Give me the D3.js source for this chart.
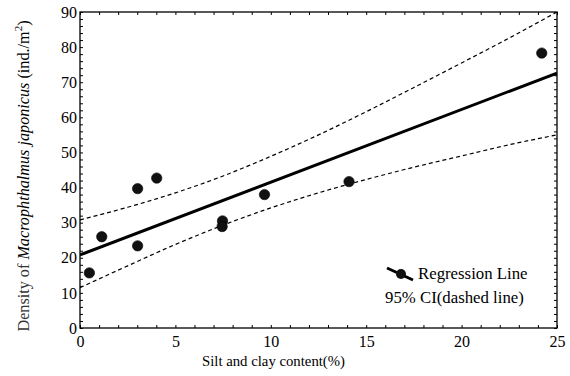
<!DOCTYPE html>
<html>
<head>
<meta charset="utf-8">
<script src="https://cdn.jsdelivr.net/npm/d3@7"></script>
<style>
  body { margin: 0; background: #fff; }
  svg { display: block; }
  .serif { font-family: "Liberation Serif", "Times New Roman", serif; }
</style>
</head>
<body>
<div id="app"></div>
<script>
// observed points (silt & clay %, density)
const silt = [0.49, 1.14, 3.02, 3.02, 4.02, 7.47, 7.45, 9.67, 14.1, 24.2];
const density = [15.7, 26.0, 39.7, 23.4, 42.7, 30.5, 28.9, 38.0, 41.7, 78.3];

// regression line ends and 95% CI
const regX = [0, 25];
const regY = [20.8, 72.6];
const ciX = [0, 2.5, 5, 7.5, 10, 12.5, 15, 17.5, 20, 22.5, 25];
const ciUpper = [30.8, 34.4, 38.5, 43.3, 48.9, 55.0, 61.6, 68.5, 75.5, 82.6, 90.0];
const ciLower = [11.5, 17.7, 23.8, 29.3, 34.2, 38.5, 42.3, 45.8, 49.0, 52.2, 55.0];

const xTicks = [0, 5, 10, 15, 20, 25];
const yTicks = [0, 10, 20, 30, 40, 50, 60, 70, 80, 90];

const W = 570, H = 376;
const m = { left: 80, right: 13, top: 12, bottom: 48 };

const svg = d3.select('#app').append('svg')
  .attr('width', W).attr('height', H);

const x = d3.scaleLinear().domain([0, 25]).range([m.left, W - m.right]);
const y = d3.scaleLinear().domain([0, 90]).range([H - m.bottom, m.top]);

// frame
svg.append('rect')
  .attr('x', x(0)).attr('y', y(90))
  .attr('width', x(25) - x(0)).attr('height', y(0) - y(90))
  .attr('fill', 'none').attr('stroke', '#000').attr('stroke-width', 1.3);

// ticks on all four sides, pointing in
const fmt = () => '';
svg.append('g').attr('transform', `translate(0,${y(0)})`)
  .call(d3.axisTop(x).tickValues(d3.range(0, 26, 1)).tickSize(3).tickFormat(fmt))
  .call(g => g.select('.domain').remove());
svg.append('g').attr('transform', `translate(0,${y(90)})`)
  .call(d3.axisBottom(x).tickValues(d3.range(0, 26, 1)).tickSize(3).tickFormat(fmt))
  .call(g => g.select('.domain').remove());
svg.append('g').attr('transform', `translate(${x(0)},0)`)
  .call(d3.axisRight(y).tickValues(d3.range(0, 91, 2)).tickSize(3).tickFormat(fmt))
  .call(g => g.select('.domain').remove());
svg.append('g').attr('transform', `translate(${x(25)},0)`)
  .call(d3.axisLeft(y).tickValues(d3.range(0, 91, 2)).tickSize(3).tickFormat(fmt))
  .call(g => g.select('.domain').remove());

// tick labels
svg.append('g').attr('transform', `translate(0,${y(0)})`)
  .call(d3.axisBottom(x).tickValues(xTicks).tickSize(0).tickPadding(8).tickFormat(d3.format('d')))
  .call(g => g.select('.domain').remove())
  .attr('font-family', null).attr('font-size', null)
  .selectAll('text')
  .attr('class', 'serif').style('font-size', '16px').attr('fill', '#000');
svg.append('g').attr('transform', `translate(${x(0)},0)`)
  .call(d3.axisLeft(y).tickValues(yTicks).tickSize(0).tickPadding(3).tickFormat(d3.format('d')))
  .call(g => g.select('.domain').remove())
  .attr('font-family', null).attr('font-size', null)
  .selectAll('text')
  .attr('class', 'serif').style('font-size', '16px').attr('fill', '#000');

svg.selectAll('.tick line').attr('stroke', '#000');

// clip to plot area
svg.append('clipPath').attr('id', 'plot')
  .append('rect')
  .attr('x', x(0)).attr('y', y(90))
  .attr('width', x(25) - x(0)).attr('height', y(0) - y(90));

const plot = svg.append('g').attr('clip-path', 'url(#plot)');

const line = d3.line().x(d => x(d[0])).y(d => y(d[1])).curve(d3.curveMonotoneX);

plot.append('path')
  .datum(d3.zip(ciX, ciUpper))
  .attr('d', line)
  .attr('fill', 'none').attr('stroke', '#000')
  .attr('stroke-width', 1.2).attr('stroke-dasharray', '4,3');
plot.append('path')
  .datum(d3.zip(ciX, ciLower))
  .attr('d', line)
  .attr('fill', 'none').attr('stroke', '#000')
  .attr('stroke-width', 1.2).attr('stroke-dasharray', '4,3');
plot.append('path')
  .datum(d3.zip(regX, regY))
  .attr('d', d3.line().x(d => x(d[0])).y(d => y(d[1])))
  .attr('fill', 'none').attr('stroke', '#000').attr('stroke-width', 3);

plot.selectAll('circle.pt')
  .data(d3.zip(silt, density))
  .join('circle')
  .attr('class', 'pt')
  .attr('cx', d => x(d[0])).attr('cy', d => y(d[1]))
  .attr('r', 5.2)
  .attr('fill', '#111').attr('stroke', '#000').attr('stroke-width', 0.6);

// legend
const lg = svg.append('g');
lg.append('line')
  .attr('x1', 387).attr('y1', 268).attr('x2', 413).attr('y2', 280)
  .attr('stroke', '#000').attr('stroke-width', 3);
lg.append('circle').attr('cx', 401).attr('cy', 274).attr('r', 5).attr('fill', '#111');
lg.append('text').attr('class', 'serif').attr('x', 418).attr('y', 279)
  .style('font-size', '16.8px')
  .text('Regression Line');
lg.append('text').attr('class', 'serif').attr('x', 385).attr('y', 303)
  .style('font-size', '16.8px')
  .text('95% CI(dashed line)');

// axis titles
svg.append('text')
  .attr('class', 'serif')
  .attr('x', 202).attr('y', 366)
  .style('font-size', '14px')
  .attr('textLength', 143).attr('lengthAdjust', 'spacingAndGlyphs')
  .text('Silt and clay content(%)');

const yt = svg.append('text')
  .attr('class', 'serif')
  .attr('transform', 'translate(29,176) rotate(-90)')
  .attr('text-anchor', 'middle')
  .style('font-size', '16.2px');
yt.append('tspan').attr('fill', '#333').text('Density of ');
yt.append('tspan').style('font-style', 'italic').text('Macrophthalmus japonicus');
yt.append('tspan').text(' (ind./m');
yt.append('tspan').style('font-size', '11px').attr('dy', -7).text('2');
yt.append('tspan').attr('dy', 7).text(')');
</script>
</body>
</html>
